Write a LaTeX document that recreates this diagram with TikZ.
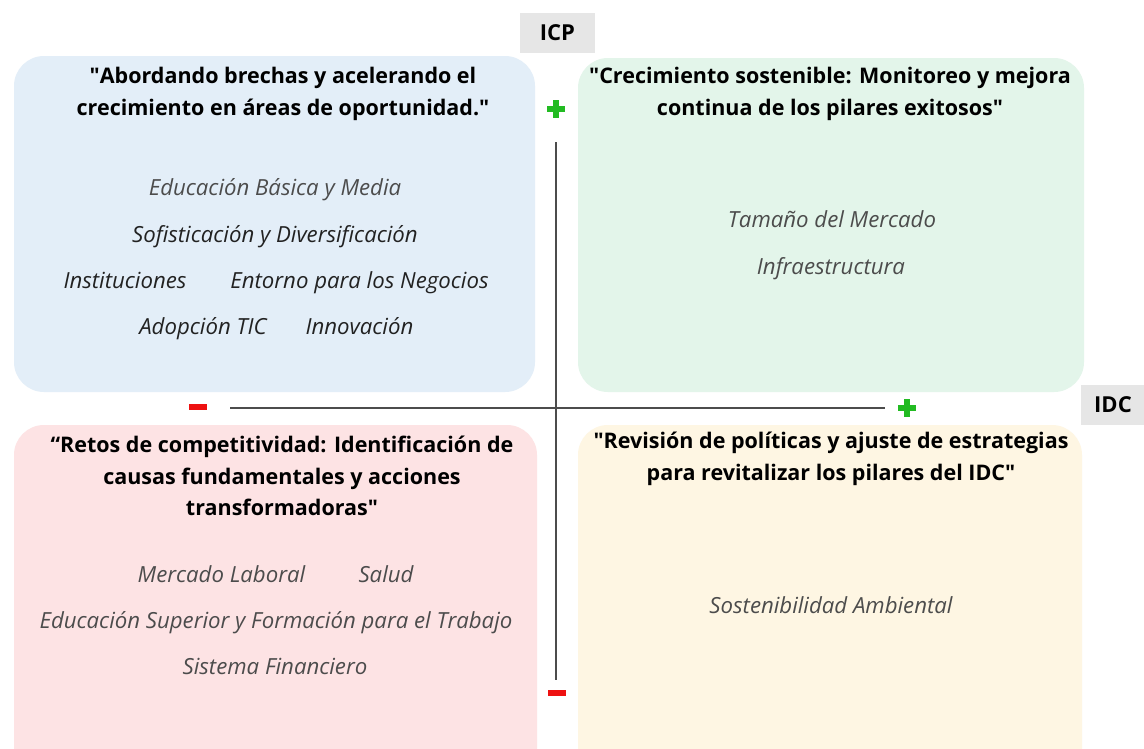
\documentclass[tikz,border=0pt]{standalone}
\usepackage{fontspec}
\setmainfont{Open Sans}
\definecolor{qblue}{HTML}{E3EEF8}
\definecolor{qgreen}{HTML}{E3F5EA}
\definecolor{qpink}{HTML}{FDE3E4}
\definecolor{qyellow}{HTML}{FEF6E3}
\definecolor{lblgray}{HTML}{E6E6E6}
\definecolor{txtdark}{HTML}{222222}
\definecolor{txtgray}{HTML}{4C4C4C}
\definecolor{plusgreen}{HTML}{22BB22}
\definecolor{minusred}{HTML}{EE1111}
\newcommand{\dq}{\textquotedbl}
\begin{document}
\begin{tikzpicture}[x=1pt,y=-1pt,
  quad/.style={rounded corners=30pt, inner sep=0pt},
  title/.style={font=\fontsize{21.5}{31.5}\selectfont\bfseries, text=black, align=center},
  item/.style={font=\fontsize{22.2}{24}\selectfont\itshape, text=txtdark, text height=16pt, text depth=5pt},
  itemg/.style={item, text=txtgray},
  axlabel/.style={fill=lblgray, font=\fontsize{22}{24}\selectfont\bfseries, inner sep=0pt},
  axis/.style={line width=1.6pt, draw=black!70},
  plussign/.style={minimum size=18pt, inner sep=0pt, path picture={
      \fill[plusgreen] ([xshift=-9pt,yshift=-3pt]path picture bounding box.center) rectangle ++(18pt,6pt);
      \fill[plusgreen] ([xshift=-3pt,yshift=-9pt]path picture bounding box.center) rectangle ++(6pt,18pt);}},
  minussign/.style={fill=minusred, minimum width=18pt, minimum height=6.5pt, inner sep=0pt}
]
\useasboundingbox (0,0) rectangle (1144,748);
\clip (0,0) rectangle (1144,748);
\fill[white] (0,0) rectangle (1144,748);
% quadrants
\fill[qblue, quad] (14,56) rectangle (535,392);
\fill[qgreen, quad] (578,58) rectangle (1084,392);
\fill[qpink, quad] (14,425) rectangle (537,790);
\fill[qyellow, quad] (578,425) rectangle (1082,790);
% axis labels
\node[axlabel, minimum width=75pt, minimum height=40pt] (icp) at (557.5,33) {ICP};
\node[axlabel, minimum width=64pt, minimum height=40pt] (idc) at (1113,405) {IDC};
% axes
\coordinate (vtop) at (556,142);
\coordinate (vbot) at (556,680);
\coordinate (hleft) at (230,408);
\coordinate (hright) at (885,408);
\draw[axis] (vtop) -- (vbot);
\draw[axis] (hleft) -- (hright);
% signs
\node[plussign] (ptop) at (556,109) {};
\node[plussign] (pright) at (907,408) {};
\node[minussign] (mleft) at (198,407) {};
\node[minussign] (mbot) at (557,693) {};
% blue quadrant
\node[title] (ta) at (283,94) {\dq Abordando brechas y acelerando el\\crecimiento en áreas de oportunidad.\dq};
\node[itemg] (a1) at (275,190) {Educación Básica y Media};
\node[item] (a2) at (275,237) {Sofisticación y Diversificación};
\node[item] (a3) at (125,283) {Instituciones};
\node[item] (a4) at (359.5,283) {Entorno para los Negocios};
\node[item] (a5) at (203,329) {Adopción TIC};
\node[item] (a6) at (359.5,329) {Innovación};
% green quadrant
\node[title] (tb) at (830,94) {\dq Crecimiento sostenible: Monitoreo y mejora\\continua de los pilares exitosos\dq};
\node[itemg] (b1) at (832,222) {Tamaño del Mercado};
\node[itemg] (b2) at (831,269) {Infraestructura};
% pink quadrant
\node[title] (tc) at (282,476) {“Retos de competitividad: Identificación de\\causas fundamentales y acciones\\transformadoras\dq};
\node[itemg] (c1) at (221.5,577) {Mercado Laboral};
\node[itemg] (c2) at (386,577) {Salud};
\node[itemg] (c3) at (276,623) {Educación Superior y Formación para el Trabajo};
\node[itemg] (c4) at (275,669) {Sistema Financiero};
% yellow quadrant
\node[title] (td) at (831,459) {\dq Revisión de políticas y ajuste de estrategias\\para revitalizar los pilares del IDC\dq};
\node[itemg] (d1) at (831,608) {Sostenibilidad Ambiental};
\end{tikzpicture}
\end{document}
